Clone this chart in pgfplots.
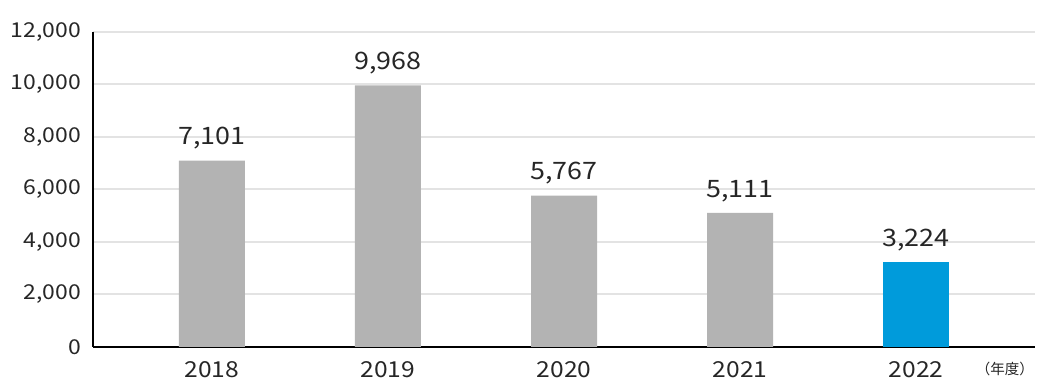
\documentclass[border=0pt]{standalone}
\usepackage{pgfplots}
\pgfplotsset{compat=1.18}
\usepackage{fontspec}
\setmainfont{Noto Sans CJK JP}[FakeStretch=1.12]
\newfontfamily\cjk{Noto Sans CJK JP}
\definecolor{barGray}{HTML}{B3B3B3}
\definecolor{barBlue}{HTML}{009BDB}
\definecolor{gridGray}{HTML}{E3E3E3}
\begin{document}
\begin{tikzpicture}
\begin{axis}[
  scale only axis,
  width=942pt, height=315pt,
  xmin=-0.676, xmax=4.676,
  ymin=0, ymax=12000,
  axis x line=bottom, axis y line=left,
  axis line style={black, line width=2pt, -},
  ytick={0,2000,...,12000},
  xtick={0,1,2,3,4},
  xticklabels={2018,2019,2020,2021,2022},
  major tick length=0pt,
  ymajorgrids,
  grid style={gridGray, line width=2pt},
  /pgf/number format/assume math mode=true,
  /pgf/number format/.cd, 1000 sep={,}, /pgfplots/.cd,
  scaled y ticks=false,
  tick label style={text=black!85, inner sep=0pt},
  yticklabel style={font=\fontsize{20.5}{20.5}\selectfont, xshift=-12pt},
  xticklabel style={font=\fontsize{22}{22}\selectfont, yshift=-14pt},
  bar width=66pt,
  ybar, bar shift=0pt,
  point meta=explicit symbolic,
  nodes near coords,
  nodes near coords style={font=\fontsize{24}{24}\selectfont, text=black!85, inner sep=0pt, yshift=11pt},
  clip=false,
]
\addplot[fill=barGray, draw=none] coordinates {(0,7101) [7,101] (1,9968) [9,968] (2,5767) [5,767] (3,5111) [5,111]};
\addplot[fill=barBlue, draw=none] coordinates {(4,3224) [3,224]};
\end{axis}
\node[anchor=east, font=\cjk\fontsize{14.5}{14.5}\selectfont, text=black!85, inner sep=0pt] at ([xshift=-1pt,yshift=-22pt]current axis.south east) {（年度）};
\pgfresetboundingbox
\path ([xshift=-93pt,yshift=-43pt]current axis.south west) rectangle ([xshift=5pt,yshift=32pt]current axis.north east);
\end{tikzpicture}
\end{document}
